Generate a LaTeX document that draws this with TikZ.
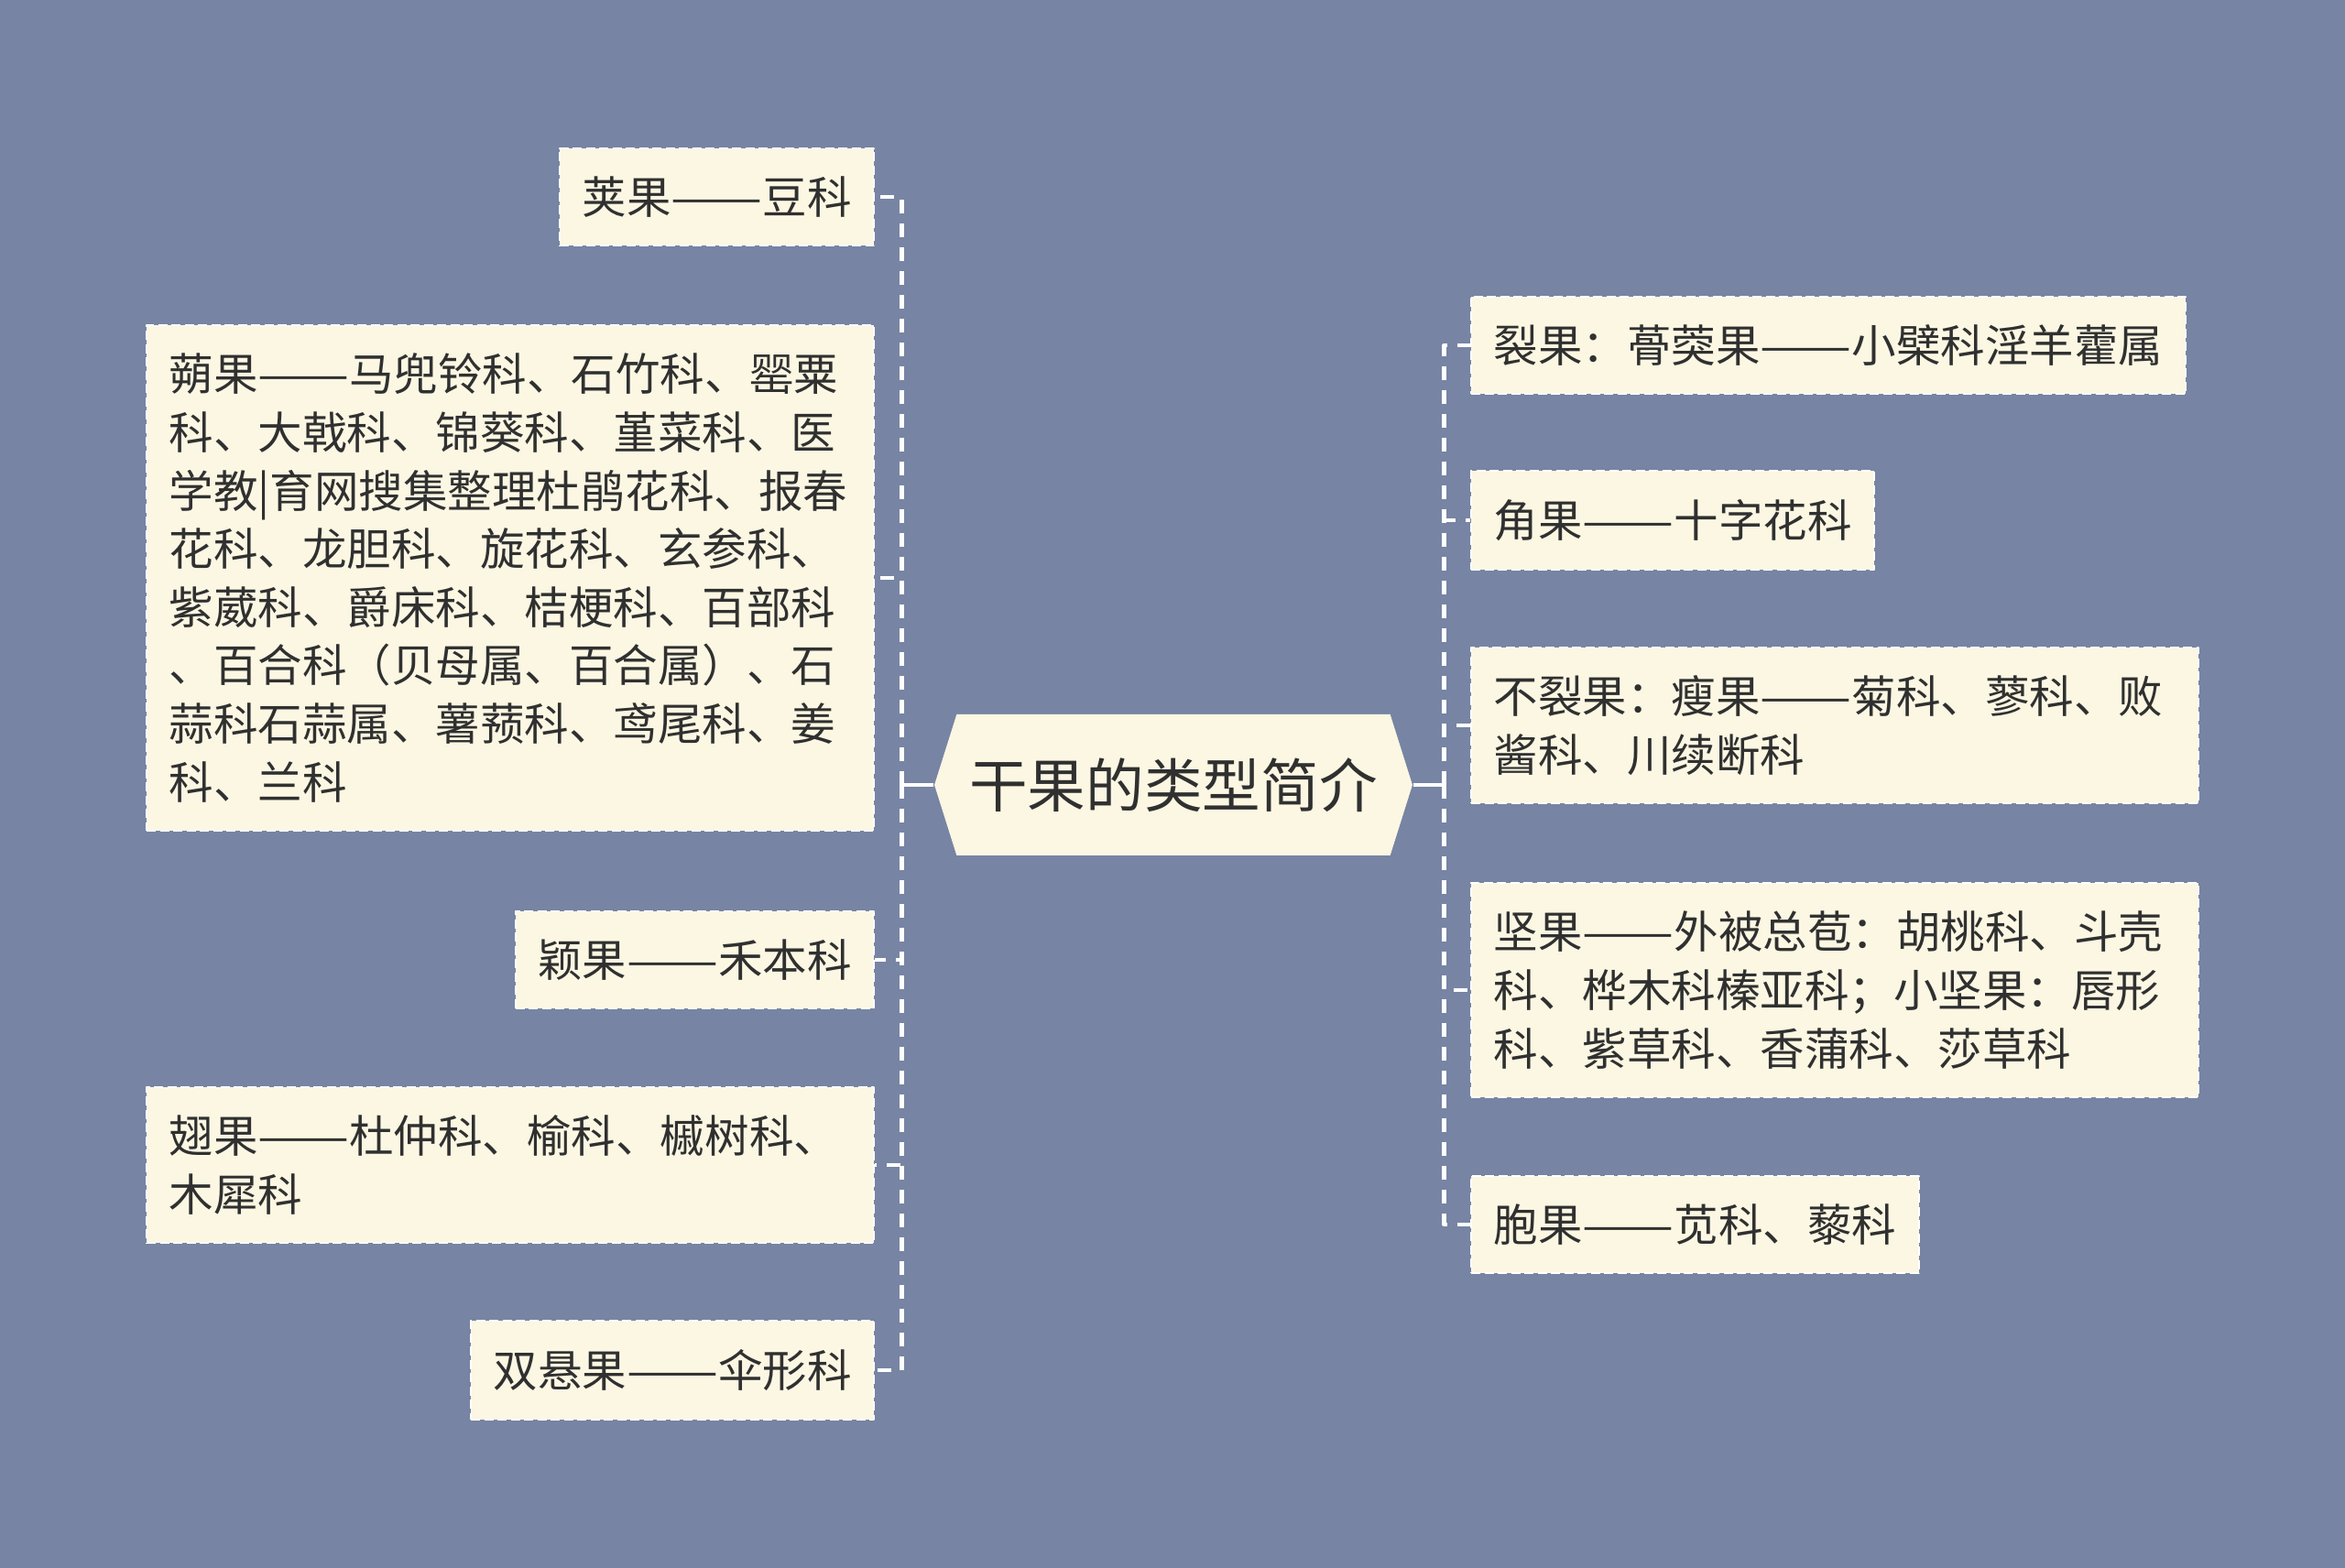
\documentclass[tikz,border=0pt]{standalone}
\usepackage{fontspec}
\newfontfamily\cjk{Noto Sans CJK SC}
\usetikzlibrary{shapes.symbols}
\definecolor{bgblue}{RGB}{119,132,163}
\definecolor{leafbg}{RGB}{251,247,227}
\definecolor{inkgray}{RGB}{48,48,48}
\newcommand\ldash{\scalebox{1.23}[1]{——}}
\begin{document}
\begin{tikzpicture}[line join=round]
\tikzset{
  leaf/.style={draw=white, fill=leafbg, line width=0.02cm, dash pattern=on 0.1cm off 0.045cm,
    text=inkgray, font=\cjk\fontsize{13.8pt}{18.1pt}\selectfont, inner xsep=0.245cm, inner ysep=0.31cm},
  leafwide/.style={leaf, text width=7.45cm, align=left},
  hub/.style={signal, signal to=west and east, signal pointer angle=145, fill=leafbg, text=inkgray,
    font=\cjk\fontsize{18.1pt}{22pt}\selectfont, inner xsep=0.14cm, minimum height=1.54cm},
  stub/.style={draw=white, line width=0.04cm},
  link/.style={draw=white, line width=0.045cm, dash pattern=on 0.15cm off 0.11cm}
}
\fill[bgblue] (0,0) rectangle (25.6,17.12);
\node[hub] (hub) at (12.81,8.55) {干果的类型简介};

\node[leaf, anchor=east] (pod) at (9.55,14.97) {荚果\ldash 豆科};
\node[leafwide, anchor=east] (capsule) at (9.55,10.81) {蒴果\ldash 马兜铃科、石竹科、罂粟\\科、大戟科、锦葵科、堇菜科、医\\学教|育网搜集整理杜鹃花科、报春\\花科、龙胆科、旋花科、玄参科、\\紫葳科、爵床科、桔梗科、百部科\\、百合科（贝母属、百合属）、石\\蒜科石蒜属、薯蓣科、鸢尾科、姜\\科、兰科};
\node[leaf, anchor=east] (caryopsis) at (9.55,6.64) {颖果\ldash 禾本科};
\node[leafwide, anchor=east] (samara) at (9.55,4.40) {翅果\ldash 杜仲科、榆科、槭树科、\\木犀科};
\node[leaf, anchor=east] (cremocarp) at (9.55,2.16) {双悬果\ldash 伞形科};

\node[leaf, anchor=west] (follicle) at (16.05,13.35) {裂果：蓇葖果\ldash 小檗科淫羊藿属};
\node[leaf, anchor=west] (silique) at (16.05,11.44) {角果\ldash 十字花科};
\node[leafwide, anchor=west] (achene) at (16.05,9.20) {不裂果：瘦果\ldash 菊科、蓼科、败\\酱科、川续断科};
\node[leafwide, anchor=west] (nut) at (16.05,6.31) {坚果\ldash 外被总苞：胡桃科、斗壳\\科、桦木科榛亚科；小坚果：唇形\\科、紫草科、香蒲科、莎草科};
\node[leaf, anchor=west] (utricle) at (16.05,3.75) {胞果\ldash 苋科、藜科};

\coordinate (ljoin) at ([xshift=-0.35cm]hub.west);
\coordinate (rjoin) at ([xshift=0.34cm]hub.east);
\draw[stub] (hub.west) -- (ljoin);
\draw[stub] (hub.east) -- (rjoin);
\foreach \kid in {pod,capsule,caryopsis,samara,cremocarp}
  \draw[link] (ljoin) |- (\kid.east);
\foreach \kid in {follicle,silique,achene,nut,utricle}
  \draw[link] (rjoin) |- (\kid.west);
\end{tikzpicture}
\end{document}
